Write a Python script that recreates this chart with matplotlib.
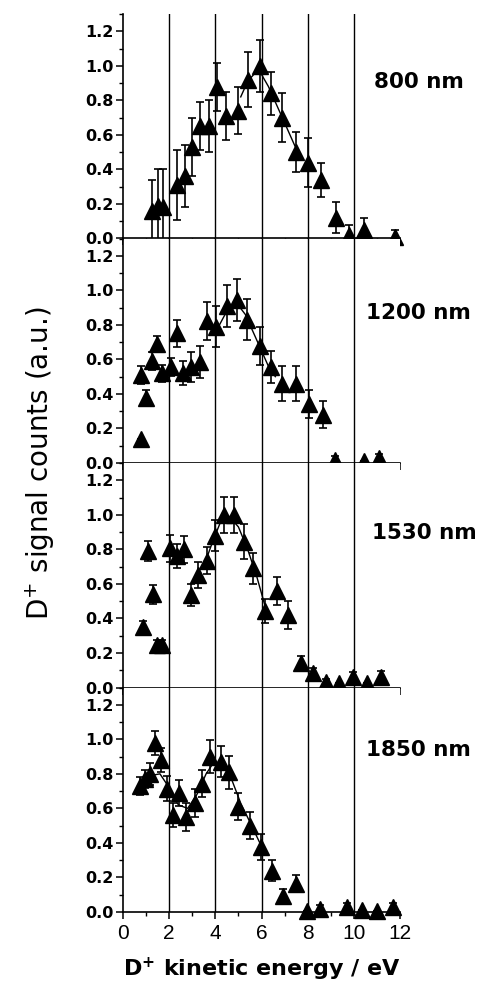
import matplotlib
matplotlib.use("Agg")
import matplotlib.pyplot as plt
from matplotlib.ticker import MultipleLocator

plt.rcParams['font.family'] = ['Liberation Sans', 'DejaVu Sans']
plt.rcParams['mathtext.fontset'] = 'dejavusans'

# ---------------- data ----------------
wavelengths = ["800 nm", "1200 nm", "1530 nm", "1850 nm"]

x_800 = [1.27, 1.5, 1.75, 2.35, 2.68, 3.01, 3.33, 3.73, 4.08, 4.48, 4.99, 5.42, 5.92,
         6.40, 6.90, 7.48, 8.01, 8.59, 9.21, 9.81, 10.43, 11.8]
y_800 = [0.16, 0.19, 0.18, 0.31, 0.36, 0.53, 0.65, 0.65, 0.876, 0.71, 0.74, 0.92, 1.00,
         0.84, 0.70, 0.50, 0.44, 0.34, 0.12, 0.02, 0.05, 0.01]
e_800 = [0.18, 0.21, 0.22, 0.20, 0.18, 0.17, 0.14, 0.15, 0.14, 0.14, 0.135, 0.16, 0.15,
         0.125, 0.14, 0.115, 0.14, 0.10, 0.09, 0.056, 0.07, 0.04]
fx_800 = [5.1, 5.4, 5.7, 6.0, 6.3, 6.6, 7.0, 7.5]
fy_800 = [0.82, 0.91, 0.955, 0.95, 0.88, 0.79, 0.67, 0.52]

x_1200 = [0.78, 0.78, 0.98, 1.27, 1.48, 1.67, 2.06, 2.32, 2.61, 2.93, 3.33, 3.65, 4.05,
          4.52, 4.96, 5.39, 5.92, 6.40, 6.90, 7.48, 8.04, 8.66, 9.19, 10.46, 11.1]
y_1200 = [0.14, 0.51, 0.375, 0.59, 0.69, 0.52, 0.556, 0.75, 0.52, 0.556, 0.585, 0.82, 0.79,
          0.91, 0.945, 0.83, 0.68, 0.556, 0.46, 0.46, 0.34, 0.28, 0.02, 0.01, 0.03]
e_1200 = [0.0, 0.05, 0.045, 0.05, 0.045, 0.05, 0.05, 0.08, 0.07, 0.085, 0.09, 0.11, 0.12,
          0.12, 0.12, 0.12, 0.11, 0.09, 0.10, 0.10, 0.08, 0.08, 0.02, 0.0, 0.02]
fx_1200 = [4.1, 4.5, 4.9, 5.3, 5.7, 6.0, 6.3, 6.6]
fy_1200 = [0.78, 0.88, 0.93, 0.86, 0.74, 0.65, 0.56, 0.50]

x_1530 = [0.88, 1.10, 1.28, 1.48, 1.70, 2.03, 2.35, 2.64, 2.93, 3.23, 3.62, 3.98, 4.37,
          4.81, 5.23, 5.63, 6.17, 6.67, 7.15, 7.69, 8.23, 8.80, 9.34, 9.96, 10.58, 11.18]
y_1530 = [0.35, 0.79, 0.54, 0.244, 0.244, 0.805, 0.76, 0.80, 0.535, 0.65, 0.735, 0.88, 1.0,
          1.0, 0.845, 0.69, 0.444, 0.56, 0.42, 0.14, 0.084, 0.03, 0.025, 0.06, 0.025, 0.063]
e_1530 = [0.035, 0.06, 0.055, 0.03, 0.03, 0.08, 0.07, 0.08, 0.065, 0.075, 0.08, 0.09, 0.105,
          0.105, 0.10, 0.09, 0.07, 0.08, 0.08, 0.04, 0.03, 0.02, 0.0, 0.03, 0.0, 0.03]
fx_1530 = [3.6, 3.9, 4.2, 4.6, 5.0, 5.4, 5.8, 6.2]
fy_1530 = [0.74, 0.85, 0.95, 0.99, 0.93, 0.80, 0.64, 0.45]

x_1850 = [0.74, 0.95, 1.17, 1.39, 1.63, 1.89, 2.15, 2.44, 2.73, 3.12, 3.44, 3.77, 4.23,
          4.61, 5.0, 5.51, 5.98, 6.45, 6.92, 7.5, 7.99, 8.54, 9.72, 10.35, 11.0, 11.68]
y_1850 = [0.73, 0.77, 0.80, 0.98, 0.88, 0.715, 0.56, 0.69, 0.55, 0.63, 0.744, 0.90, 0.87,
          0.81, 0.61, 0.50, 0.377, 0.24, 0.09, 0.164, 0.005, 0.02, 0.03, 0.01, 0.005, 0.03]
e_1850 = [0.05, 0.05, 0.065, 0.07, 0.07, 0.075, 0.07, 0.075, 0.08, 0.08, 0.08, 0.095, 0.09,
          0.095, 0.08, 0.08, 0.075, 0.06, 0.045, 0.05, 0.0, 0.02, 0.02, 0.0, 0.0, 0.02]
fx_1850 = [0.9, 1.2, 1.6, 2.0, 2.4, 2.8, 3.2, 3.6, 3.9, 4.3, 4.7, 5.1, 5.5, 6.0]
fy_1850 = [0.74, 0.79, 0.80, 0.72, 0.62, 0.60, 0.68, 0.80, 0.86, 0.86, 0.77, 0.63, 0.52, 0.38]

vlines = [2, 4, 6, 8, 10]
xticks = [0, 2, 4, 6, 8, 10, 12]
yticks = [0.0, 0.2, 0.4, 0.6, 0.8, 1.0, 1.2]

panels = [
    (x_800, y_800, e_800, fx_800, fy_800),
    (x_1200, y_1200, e_1200, fx_1200, fy_1200),
    (x_1530, y_1530, e_1530, fx_1530, fy_1530),
    (x_1850, y_1850, e_1850, fx_1850, fy_1850),
]

# ---------------- figure ----------------
W, H = 486, 988
fig = plt.figure(figsize=(W / 100, H / 100), dpi=100)
left, right = 123 / W, 400 / W
bottom, top = 1 - 912 / H, 1 - 14 / H
ph = (top - bottom) / 4

label_pos = [(374, 82), (366, 313), (372, 533), (366, 750)]

axes = []
for i, (xs, ys, es, fx, fy) in enumerate(panels):
    ax = fig.add_axes([left, top - (i + 1) * ph, right - left, ph])
    axes.append(ax)
    ax.set_xlim(0, 12)
    ax.set_ylim(0, 1.3)
    for v in vlines:
        ax.axvline(v, color='black', lw=1.0, zorder=1)
    ax.plot(fx, fy, color='black', lw=1.0, zorder=2)
    ax.errorbar(xs, ys, yerr=es, fmt='none', ecolor='black', elinewidth=1.2,
                capsize=3.2, capthick=1.2, zorder=3)
    ax.plot(xs, ys, linestyle='none', marker='^', ms=11, color='black',
            clip_on=False, zorder=4)
    for s in ['top', 'right']:
        ax.spines[s].set_visible(False)
    for s in ['left', 'bottom']:
        ax.spines[s].set_linewidth(1.2)
    ax.set_xticks(xticks)
    ax.xaxis.set_minor_locator(MultipleLocator(1))
    ax.set_yticks(yticks)
    ax.yaxis.set_minor_locator(MultipleLocator(0.1))
    ax.tick_params(axis='both', which='major', direction='out', length=5, width=1.1)
    ax.tick_params(axis='both', which='minor', direction='out', length=3, width=1.0)
    ax.tick_params(axis='y', pad=2)
    ax.set_yticklabels(["%.1f" % t for t in yticks], fontsize=11.5, fontweight='bold',
                       family='DejaVu Sans')
    if i < 3:
        ax.tick_params(axis='x', labelbottom=False)
    else:
        ax.set_xticklabels([str(t) for t in xticks], fontsize=15)
    px, py = label_pos[i]
    fig.text(px / W, 1 - py / H, wavelengths[i], fontsize=15.5, fontweight='bold',
             family='DejaVu Sans', ha='left', va='center')

axes[-1].set_xlabel(r"D$^{\mathbf{+}}$ kinetic energy / eV", fontsize=16,
                    fontweight='bold', family='DejaVu Sans', labelpad=9)
fig.text(40 / W, 1 - 463 / H, r"D$^{+}$ signal counts (a.u.)", fontsize=20,
         family='DejaVu Sans', rotation=90, ha='center', va='center')

fig.savefig("out.png", dpi=100)
